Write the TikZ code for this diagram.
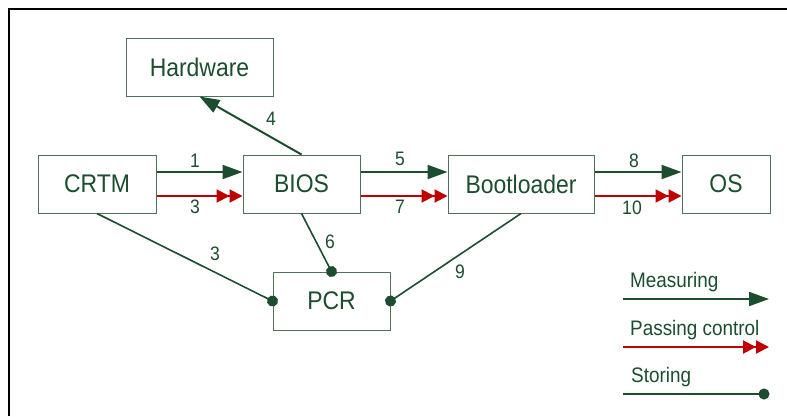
\documentclass[tikz,border=0pt]{standalone}
\usepackage{fontspec}
\setmainfont[FakeStretch=0.9]{Liberation Sans}
\usetikzlibrary{arrows.meta, positioning}

\definecolor{tpmgreen}{HTML}{1B4D2E}
\definecolor{boxgreen}{HTML}{4F7259}
\definecolor{ctrlred}{HTML}{C00000}

\tikzset{
  comp/.style={draw=boxgreen, line width=1pt, minimum height=58pt, inner sep=0pt,
    text=tpmgreen, font=\fontsize{25.5}{27}\selectfont},
  num/.style={text=tpmgreen, font=\fontsize{19.5}{21}\selectfont, inner sep=0pt},
  legtext/.style={text=tpmgreen, font=\fontsize{21}{23}\selectfont, inner sep=0pt, anchor=west},
  measure/.style={draw=tpmgreen, line width=2pt, -{Triangle[length=20pt,width=14pt]}},
  passctl/.style={draw=ctrlred, line width=2pt,
    -{Triangle[length=13pt,width=13pt] Triangle[length=13pt,width=13pt]}},
  store/.style={draw=tpmgreen, line width=1.6pt, -{Circle[length=11pt]}, shorten >=-5.5pt},
}

\begin{document}
\begin{tikzpicture}[x=1pt, y=-1pt]
  \useasboundingbox (0,0) rectangle (787,416);
  % frame
  \draw[line width=2pt] (9,416) -- (9,9) -- (787,9);

  % components
  \node[comp, minimum width=147pt] (hw)   at (199.5,67)  {Hardware};
  \node[comp, minimum width=118pt] (crtm) at (97,184)    {CRTM};
  \node[comp, minimum width=117pt] (bios) at (301.5,184) {BIOS};
  \node[comp, minimum width=146pt] (boot) at (521,184)   {Bootloader};
  \node[comp, minimum width=88pt]  (os)   at (726,184)   {OS};
  \node[comp, minimum width=117pt] (pcr)  at (331.5,301) {PCR};

  % measuring
  \draw[measure] ([yshift=12pt]crtm.east) -- ([yshift=12pt]bios.west);
  \draw[measure] ([yshift=12pt]bios.east) -- ([yshift=12pt]boot.west);
  \draw[measure] ([yshift=12pt]boot.east) -- ([yshift=12pt]os.west);
  \draw[measure] (bios.north) -- (hw.south);

  % passing control
  \draw[passctl] ([yshift=-12pt]crtm.east) -- ([yshift=-12pt]bios.west);
  \draw[passctl] ([yshift=-12pt]bios.east) -- ([yshift=-12pt]boot.west);
  \draw[passctl] ([yshift=-12pt]boot.east) -- ([yshift=-12pt]os.west);

  % storing
  \draw[store] (crtm.south) -- (pcr.west);
  \draw[store] (bios.south) -- (pcr.north);
  \draw[store] (boot.south) -- (pcr.east);

  % step numbers
  \node[num] (n1)  at (195,161) {1};
  \node[num] (n3a) at (195,207) {3};
  \node[num] (n4)  at (271,119) {4};
  \node[num] (n5)  at (400,159) {5};
  \node[num] (n7)  at (400,207) {7};
  \node[num] (n8)  at (634,161) {8};
  \node[num] (n10) at (632,208) {10};
  \node[num] (n3b) at (215,254) {3};
  \node[num] (n6)  at (330,242) {6};
  \node[num] (n9)  at (460,272) {9};

  % legend
  \coordinate (lm1) at (623,299);
  \coordinate (lm2) at (769,299);
  \coordinate (lp1) at (623,347);
  \coordinate (lp2) at (769,347);
  \coordinate (ls1) at (623,394);
  \coordinate (ls2) at (764,394);
  \node[legtext] (tmeas) at (630,282) {Measuring};
  \node[legtext] (tpass) at (630,330) {Passing control};
  \node[legtext] (tstor) at (631,377) {Storing};
  \draw[measure] (lm1) -- (lm2);
  \draw[passctl] (lp1) -- (lp2);
  \draw[store] (ls1) -- (ls2);
\end{tikzpicture}
\end{document}
